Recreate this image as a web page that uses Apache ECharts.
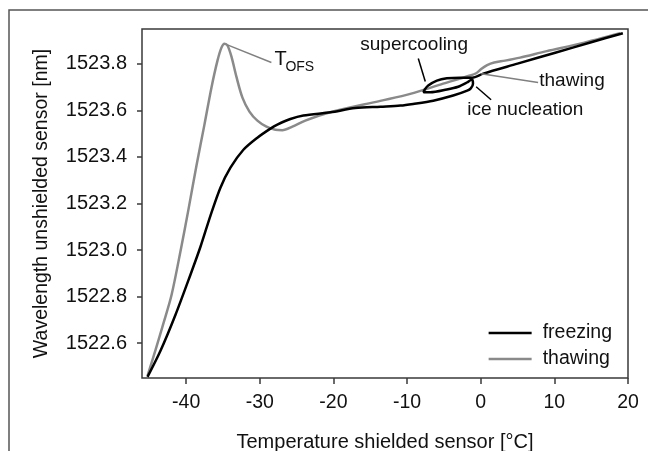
<!DOCTYPE html>
<html>
<head>
<meta charset="utf-8">
<script src="https://cdn.jsdelivr.net/npm/echarts@6/dist/echarts.min.js"></script>
<style>
html,body{margin:0;padding:0;background:#fff;}
#chart{width:648px;height:451px;}
</style>
</head>
<body>
<div id="chart"></div>
<script>
// ---- data ----
const xTicks = [-40, -30, -20, -10, 0, 10, 20];
const yTicks = [1522.6, 1522.8, 1523.0, 1523.2, 1523.4, 1523.6, 1523.8];

// freezing: from warm (19 °C) to cold (-45 °C)
const freezingT = [19.3, 15, 10, 5, 0.33, -1.16, -2.8, -4.6, -5.95, -7.13, -7.6, -7.77,
  -6.86, -4.6, -3.06, -1.88, -1.2, -1.05, -1.35, -1.84,
  -3.74, -6.45, -9.18, -10.9, -13.6, -17.04, -20.41, -24.09, -25.85, -27.62, -28.56,
  -30.33, -32.23, -33.99, -35.35, -36.7, -38.06, -39.42, -41.45, -43.49, -45.25];
const freezingW = [1523.932, 1523.893, 1523.847, 1523.801, 1523.758, 1523.741, 1523.741, 1523.738, 1523.728, 1523.707, 1523.69, 1523.678,
  1523.678, 1523.69, 1523.702, 1523.72, 1523.733, 1523.715, 1523.695, 1523.685,
  1523.664, 1523.642, 1523.628, 1523.621, 1523.616, 1523.61, 1523.592, 1523.578, 1523.563, 1523.539, 1523.522,
  1523.483, 1523.431, 1523.354, 1523.268, 1523.148, 1523.014, 1522.894, 1522.722, 1522.567, 1522.455];

// thawing: from cold (-45 °C) to warm (19 °C)
const thawingT = [-45.25, -44.16, -43.07, -41.98, -40.76, -39.67, -38.6, -37.52, -36.57, -35.75, -35.21, -34.8, -34.39,
  -33.85, -33.18, -32.36, -31.41, -30.33, -29.1, -27.89, -26.94, -25.58, -23.82, -20.43, -13.64, -9.57, -5.1, -1.43,
  -0.62, 0.06, 0.87, 1.82, 3.31, 5.35, 8.97, 13.49, 18.92];
const thawingW = [1522.459, 1522.571, 1522.687, 1522.808, 1522.997, 1523.178, 1523.363, 1523.539, 1523.698, 1523.814, 1523.87, 1523.887, 1523.879,
  1523.831, 1523.745, 1523.655, 1523.595, 1523.556, 1523.53, 1523.517, 1523.515, 1523.53, 1523.556, 1523.592, 1523.641, 1523.671, 1523.715, 1523.75,
  1523.76, 1523.778, 1523.795, 1523.806, 1523.814, 1523.827, 1523.855, 1523.887, 1523.932];

const seriesNames = ['freezing', 'thawing'];

// annotations (data coordinates)
const notes = [
  {text: 'supercooling', at: [-16.36, 1523.883], line: [[-8.48, 1523.823], [-7.53, 1523.724]], color: '#000'},
  {text: 'ice nucleation', at: [-1.84, 1523.603], line: [[-0.62, 1523.702], [1.41, 1523.646]], color: '#000'},
  {text: 'thawing', at: [7.95, 1523.728], line: [[0.06, 1523.758], [7.79, 1523.72]], color: '#808080'}
];
const tofs = {at: [-28.02, 1523.818], line: [[-34.4, 1523.882], [-28.43, 1523.806]]};

// ---- chart ----
const zip = (a, b) => a.map((v, i) => [v, b[i]]);
const FONT = 'Liberation Sans, Arial, sans-serif';
const chart = echarts.init(document.getElementById('chart'), null, {renderer: 'canvas'});

chart.setOption({
  animation: false,
  backgroundColor: '#fff',
  grid: {left: 142, right: 20, top: 29, bottom: 73, containLabel: false, outerBoundsMode: 'none',
    show: true, borderColor: '#3a3a3a', borderWidth: 1.5, backgroundColor: 'transparent'},
  xAxis: {
    type: 'value', min: -46, max: 20,
    name: 'Temperature shielded sensor [°C]', nameLocation: 'middle', nameGap: 54,
    nameTextStyle: {fontFamily: FONT, fontSize: 20, color: '#111'},
    axisLine: {show: false, onZero: false},
    axisTick: {show: true, length: 6, inside: false, customValues: xTicks, lineStyle: {color: '#3a3a3a', width: 1.5}},
    axisLabel: {customValues: xTicks, margin: 15, fontFamily: FONT, fontSize: 19.5, color: '#111', formatter: v => String(v)},
    splitLine: {show: false}
  },
  yAxis: {
    type: 'value', min: 1522.45, max: 1523.95,
    name: 'Wavelength unshielded sensor [nm]', nameLocation: 'middle', nameGap: 90, nameRotate: 90,
    nameTextStyle: {fontFamily: FONT, fontSize: 19.5, color: '#111'},
    axisLine: {show: false, onZero: false},
    axisTick: {show: true, length: 5, inside: false, customValues: yTicks, lineStyle: {color: '#3a3a3a', width: 1.5}},
    axisLabel: {customValues: yTicks, margin: 15, fontFamily: FONT, fontSize: 20, color: '#111', formatter: v => v.toFixed(1)},
    splitLine: {show: false}
  },
  legend: {
    data: seriesNames, orient: 'vertical', right: 31, top: 318, itemWidth: 43, itemHeight: 2.5, itemGap: 6,
    icon: 'rect',
    textStyle: {fontFamily: FONT, fontSize: 19.5, color: '#111', padding: [0, 0, 0, 6]}
  },
  series: [
    {name: 'thawing', type: 'line', data: zip(thawingT, thawingW), symbol: 'none', smooth: 0.3, z: 2,
      color: '#8a8a8a', lineStyle: {color: '#8a8a8a', width: 2.5}},
    {name: 'freezing', type: 'line', data: zip(freezingT, freezingW), symbol: 'none', smooth: 0.3, z: 3,
      color: '#000', lineStyle: {color: '#000', width: 2.5}}
  ]
});

const px = p => chart.convertToPixel({gridIndex: 0}, p);
const g = [];
g.push({type: 'polyline', shape: {points: [[9, 451], [9, 10], [648, 10]]}, style: {stroke: '#555', lineWidth: 1.5, fill: null}, silent: true});
notes.forEach(n => {
  const a = px(n.line[0]), b = px(n.line[1]), t = px(n.at);
  g.push({type: 'line', shape: {x1: a[0], y1: a[1], x2: b[0], y2: b[1]}, style: {stroke: n.color, lineWidth: 1.5}, z: 10});
  g.push({type: 'text', x: t[0], y: t[1], style: {text: n.text, font: '19px ' + FONT, fill: '#111', verticalAlign: 'middle', align: 'left'}, z: 10});
});
{
  const a = px(tofs.line[0]), b = px(tofs.line[1]), t = px(tofs.at);
  g.push({type: 'line', shape: {x1: a[0], y1: a[1], x2: b[0], y2: b[1]}, style: {stroke: '#808080', lineWidth: 1.5}, z: 10});
  g.push({type: 'text', x: t[0], y: t[1], style: {text: 'T', font: '20px ' + FONT, fill: '#111', verticalAlign: 'middle', align: 'left'}, z: 10});
  g.push({type: 'text', x: t[0] + 11, y: t[1] + 7.5, style: {text: 'OFS', font: '14px ' + FONT, fill: '#111', verticalAlign: 'middle', align: 'left'}, z: 10});
}
chart.setOption({graphic: g});
</script>
</body>
</html>
